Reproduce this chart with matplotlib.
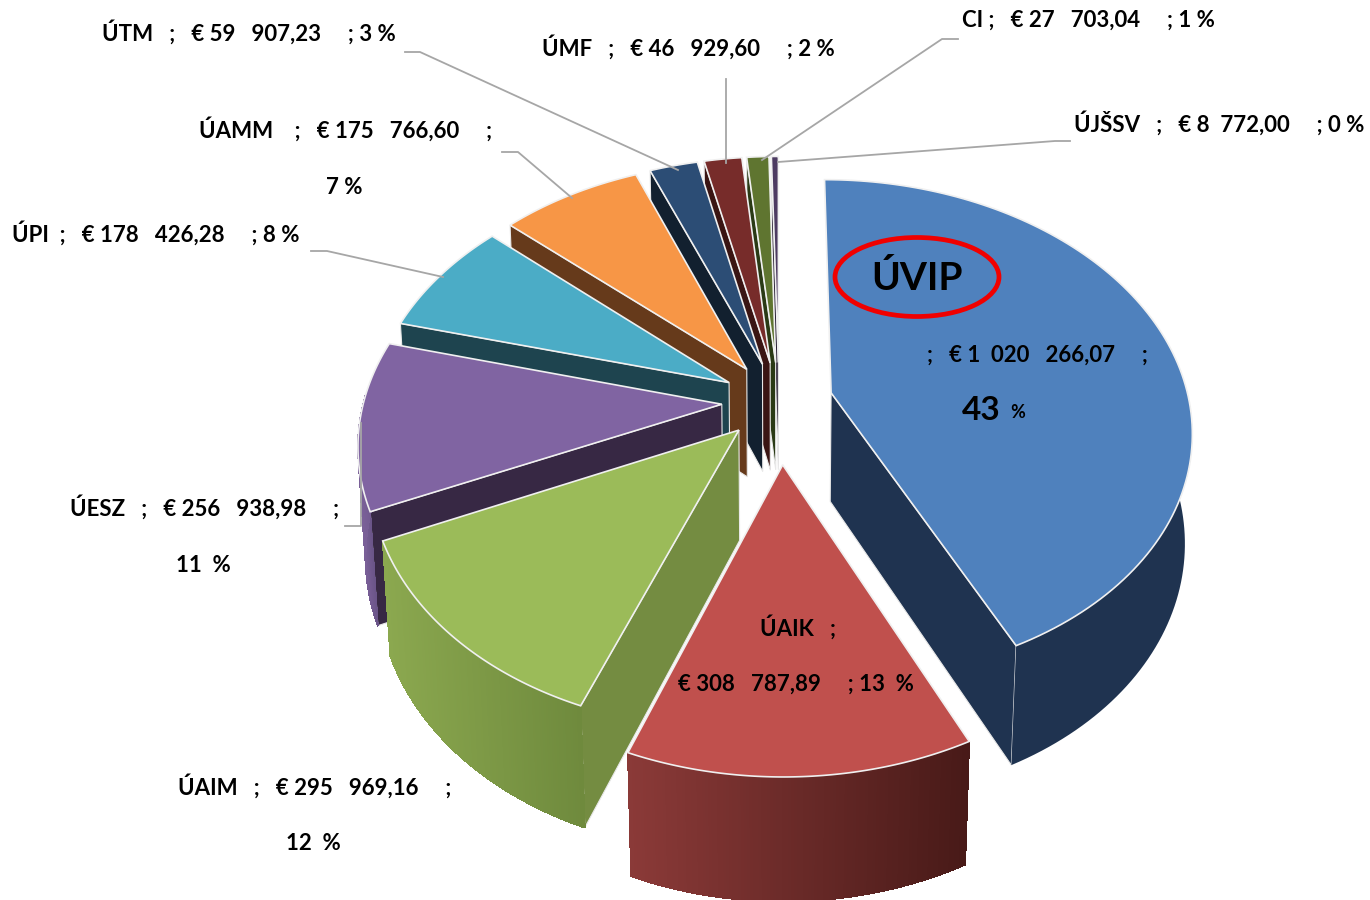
import numpy as np
import matplotlib
matplotlib.use("Agg")
import matplotlib.pyplot as plt
from matplotlib.collections import PolyCollection
from matplotlib.colors import to_rgb
from matplotlib.patches import Ellipse, Polygon

plt.rcParams['font.family'] = ['Lato', 'DejaVu Sans']

# values
categories = ["ÚVIP", "ÚAIK", "ÚAIM", "ÚESZ", "ÚPI", "ÚAMM", "ÚTM", "ÚMF", "CI", "ÚJŠSV"]
amounts = [1020266.07, 308787.89, 295969.16, 256938.98, 178426.28,
           175766.60, 59907.23, 46929.60, 27703.04, 8772.00]
explode = [0.15, 0.25, 0.16, 0.16, 0.16, 0.16, 0.16, 0.16, 0.16, 0.16]

top_colors = ["#4F81BD", "#C0504D", "#9BBB59", "#8064A2", "#4BACC6",
              "#F79646", "#2C4D75", "#772C2A", "#5F7530", "#4D3B62"]
wall_colors = ["#1F3350", "#7A3230", "#748C41", "#372844", "#1E444F",
               "#663A1B", "#12202F", "#3A1513", "#2A3A15", "#261D31"]
rim_left = ["#1F3350", "#8B3A38", "#8BA84F", "#7A6098", "#1E444F",
            "#663A1B", "#12202F", "#3A1513", "#2A3A15", "#261D31"]
rim_right = ["#1F3350", "#481A18", "#6F8A3D", "#6A5488", "#1E444F",
             "#663A1B", "#12202F", "#3A1513", "#2A3A15", "#261D31"]

# (text, centre x, y, size)
labels = [
    ("ÚTM   ;   € 59   907,23     ; 3 %", 249, 32, 16),
    ("ÚAMM    ;   € 175   766,60     ;", 346, 129, 16),
    ("7 %", 344, 187, 16),
    ("ÚPI  ;   € 178   426,28     ; 8 %", 156, 233, 16),
    ("ÚMF   ;   € 46   929,60     ; 2 %", 688, 47, 16),
    ("CI ;   € 27   703,04     ; 1 %", 1088, 20, 16),
    ("ÚJŠSV   ;   € 8  772,00     ; 0 %", 1219, 123, 16),
    (";   € 1  020   266,07     ;", 1037, 355, 16),
    ("ÚAIK   ;", 798, 627, 16),
    ("€ 308   787,89     ; 13  %", 796, 684, 16),
    ("ÚAIM   ;   € 295   969,16     ;", 315, 786, 16),
    ("12  %", 313, 843, 16),
    ("ÚESZ   ;   € 256   938,98     ;", 205, 507, 16),
    ("11  %", 203, 565, 16),
]

# leader lines, label end first
leaders = [
    ([405, 420, 678], [52, 52, 170]),
    ([502, 518, 572], [152, 152, 198]),
    ([311, 327, 443], [251, 251, 277]),
    ([345, 361, 361], [526, 526, 423]),
    ([726, 726], [79, 163]),
    ([958, 942, 762], [39, 39, 160]),
    ([1070, 1055, 778], [141, 141, 162]),
]

# fake 3d camera
CX, CY = 779, 401
RADIUS = 358
TILT = 0.688
PERSP = 0.145
DEPTH = 0.31
DEPTH_PERSP = 0.018


def project(dx, dy, z=0.0):
    s = 1 / (1 - PERSP * dy - DEPTH_PERSP * z)
    return CX + RADIUS * dx * s, CY + RADIUS * (TILT * dy - DEPTH * z) * s


def disc(theta, r=1.0, off=(0, 0)):
    return off[0] + r * np.sin(theta), off[1] - r * np.cos(theta)


fig = plt.figure(figsize=(13.7, 9), dpi=100)
ax = fig.add_axes([0, 0, 1, 1])
ax.set_xlim(0, 1370)
ax.set_ylim(900, 0)
ax.axis("off")

shares = np.array(amounts) / sum(amounts) * 2 * np.pi
ends = np.cumsum(shares)
starts = ends - shares

# back slices first
order = [9, 8, 7, 6, 5, 4, 3, 2, 0, 1]
for i in order:
    a0, a1 = starts[i], ends[i]
    mid = (a0 + a1) / 2
    off = (explode[i] * np.sin(mid), -explode[i] * np.cos(mid))
    th = np.linspace(a0, a1, 120)
    dx, dy = disc(th, off=off)
    ox, oy = off
    z = 2 + order.index(i)

    # radial wall facing the viewer
    walls = []
    if a0 > np.pi:
        walls.append(a0)
    if a1 < np.pi:
        walls.append(a1)
    for w in walls:
        ex, ey = disc(w, off=off)
        p = [project(ox, oy), project(ex, ey), project(ex, ey, -1), project(ox, oy, -1)]
        ax.add_patch(Polygon(p, closed=True, fc=wall_colors[i], ec="#E8E8E8", lw=0.8, zorder=z))

    # outer rim, in strips so it can carry a gradient
    keep = (th > np.radians(85)) & (th < np.radians(272))
    if keep.sum() > 1:
        tx, ty = project(dx[keep], dy[keep])
        bx, by = project(dx[keep], dy[keep], -1)
        c0, c1 = np.array(to_rgb(rim_left[i])), np.array(to_rgb(rim_right[i]))
        outline = np.column_stack([np.r_[tx, bx[::-1]], np.r_[ty, by[::-1]]])
        ax.add_patch(Polygon(outline, closed=True, fc=(c0 + c1) / 2, ec="none", zorder=z))
        if rim_left[i] != rim_right[i]:
            quads = []
            cols = []
            lo, hi = tx.min(), tx.max()
            for k in range(len(tx) - 1):
                quads.append([(tx[k], ty[k]), (tx[k + 1], ty[k + 1]), (bx[k + 1], by[k + 1]), (bx[k], by[k])])
                cols.append(c0 + (c1 - c0) * (tx[k] - lo) / max(hi - lo, 1))
            ax.add_collection(PolyCollection(quads, facecolors=cols, edgecolors=cols, linewidths=0.5,
                                             antialiaseds=False, zorder=z))

    # top face
    tx, ty = project(dx, dy)
    ax_, ay_ = project(ox, oy)
    ax.add_patch(Polygon(np.column_stack([np.r_[ax_, tx], np.r_[ay_, ty]]), closed=True,
                         fc=top_colors[i], ec="#F0F0F0", lw=1.2, zorder=z))

for lx, ly in leaders:
    ax.plot(lx, ly, color="#A6A6A6", lw=1.3, zorder=30)

for txt, x, y, size in labels:
    ax.text(x, y, txt, ha="center", va="center", fontsize=size, fontweight="bold", color="black", zorder=40)

ax.text(917, 278, categories[0], ha="center", va="center", fontsize=28, fontweight="bold", color="black", zorder=40)
ax.add_patch(Ellipse((917, 277), 164, 79, fc="none", ec="#F00000", lw=3.4, zorder=41))
ax.text(981, 411, "43", ha="center", va="center", fontsize=24, fontweight="bold", color="black", zorder=40)
ax.text(1018, 412, "%", ha="center", va="center", fontsize=13, fontweight="bold", color="black", zorder=40)

fig.savefig("out.png", dpi=100, facecolor="white")
